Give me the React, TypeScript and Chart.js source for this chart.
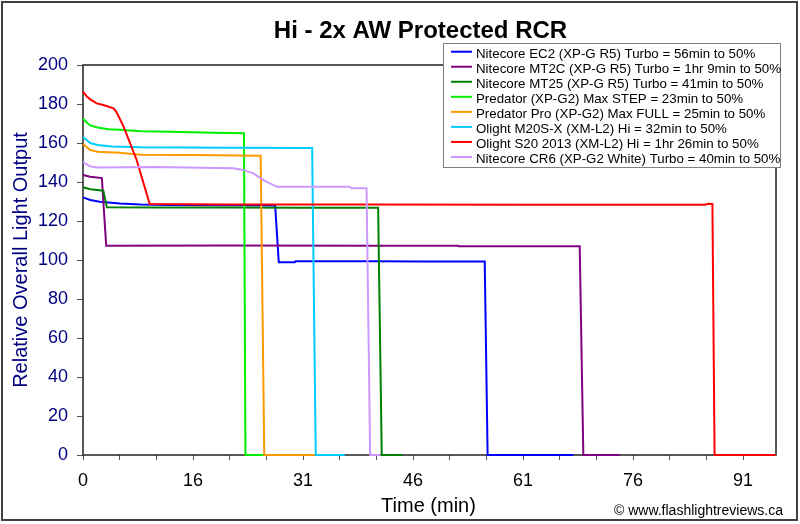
import React, { useEffect, useRef } from 'react';
import { Chart, registerables } from 'chart.js';

Chart.register(...registerables);

const FONT = '"Liberation Sans", Arial, sans-serif';

const chartTitle = 'Hi - 2x AW Protected RCR';
const xAxisTitle = 'Time (min)';
const yAxisTitle = 'Relative Overall Light Output';
const creditText = '\u00A9 www.flashlightreviews.ca';

const xTickLabels = ['0', '16', '31', '46', '61', '76', '91'];
const xLabelStep = 15.17;
const xMax = 95.57;
const yMax = 200;
const yStep = 20;

const seriesNames = [
  'Nitecore EC2 (XP-G R5) Turbo = 56min to 50%',
  'Nitecore MT2C (XP-G R5) Turbo = 1hr 9min to 50%',
  'Nitecore MT25 (XP-G R5) Turbo = 41min to 50%',
  'Predator (XP-G2) Max STEP = 23min to 50%',
  'Predator Pro (XP-G2) Max FULL = 25min to 50%',
  'Olight M20S-X (XM-L2) Hi = 32min to 50%',
  'Olight S20 2013 (XM-L2) Hi = 1hr 26min to 50%',
  'Nitecore CR6 (XP-G2 White) Turbo = 40min to 50%',
];
const seriesColors = ['#0000FF', '#800080', '#008000', '#00EE00', '#FF9900', '#00CCFF', '#FF0000', '#CC99FF'];

const ec2Time = [0, 1, 2.3, 5.1, 7.9, 12, 20, 26.5, 27.0, 29.2, 29.3, 40, 47, 55.4, 55.8, 67.6];
const ec2Output = [132.1, 130.8, 129.9, 129, 128.5, 128.2, 128.1, 127.9, 98.8, 98.8, 99.3, 99.4, 99.2, 99.2, 0, 0];

const mt2cTime = [0, 1, 2.6, 3.2, 20, 40, 51.7, 51.8, 60, 68.5, 69.0, 74];
const mt2cOutput = [143.6, 142.7, 142, 107.3, 107.4, 107.3, 107.3, 107, 107, 107, 0, 0];

const mt25Time = [0, 1, 2.8, 3.3, 10, 20, 30, 40.7, 41.2, 44];
const mt25Output = [137.3, 136.3, 135.5, 127, 126.9, 126.9, 126.8, 126.8, 0, 0];

const predatorTime = [0, 0.5, 1, 2, 3.5, 5, 8, 12, 18, 22.2, 22.4, 24.9];
const predatorOutput = [172.5, 170.5, 169, 168, 167, 166.8, 166, 165.8, 165.3, 165, 0, 0];

const predatorProTime = [0, 0.5, 1, 2, 5, 8, 15, 24.5, 25.0, 32];
const predatorProOutput = [159.5, 158, 156.4, 155.5, 155, 154, 153.8, 153.5, 0, 0];

const m20sxTime = [0, 0.5, 1, 2, 4, 8, 20, 31.6, 32.1, 36.1];
const m20sxOutput = [163, 161.5, 160, 159, 158.2, 157.8, 157.6, 157.5, 0, 0];

const s20Time = [0, 0.5, 1, 1.9, 2.8, 4.2, 4.6, 5.6, 7.4, 9.2, 20, 40, 60, 85.8, 86.2, 86.8, 87.1, 95.5];
const s20Output = [186.3, 184, 182.4, 180.3, 179.5, 177.8, 176, 168.4, 151.3, 128.7, 128.5, 128.4, 128.3, 128.3, 128.8, 128.7, 0, 0];

const cr6Time = [0, 0.5, 1, 2, 10, 20.7, 22.1, 23.5, 24.9, 26.2, 26.7, 36.8, 37.0, 39.1, 39.6, 41];
const cr6Output = [150.4, 149, 148, 147.5, 147.7, 147, 146.2, 144.4, 141, 138.5, 137.6, 137.6, 136.8, 136.8, 0, 0];

const seriesTimes = [ec2Time, mt2cTime, mt25Time, predatorTime, predatorProTime, m20sxTime, s20Time, cr6Time];
const seriesOutputs = [ec2Output, mt2cOutput, mt25Output, predatorOutput, predatorProOutput, m20sxOutput, s20Output, cr6Output];

const decorPlugin = {
  id: 'decor',
  beforeDraw(chart: any) {
    const ctx = chart.ctx;
    ctx.save();
    ctx.fillStyle = '#FFFFFF';
    ctx.fillRect(0, 0, chart.width, chart.height);
    ctx.restore();
  },
  beforeDatasetsDraw(chart: any) {
    const { ctx, chartArea } = chart;
    ctx.save();
    ctx.strokeStyle = '#222222';
    ctx.lineWidth = 1.5;
    ctx.strokeRect(chartArea.left, chartArea.top, chartArea.right - chartArea.left, chartArea.bottom - chartArea.top);
    ctx.restore();
  },
  afterDraw(chart: any) {
    const { ctx } = chart;
    ctx.save();
    // outer border
    ctx.strokeStyle = '#404040';
    ctx.lineWidth = 2;
    ctx.strokeRect(2, 2, 795, 518);

    // title
    ctx.fillStyle = '#000000';
    ctx.font = `bold 24px ${FONT}`;
    ctx.textAlign = 'center';
    ctx.textBaseline = 'alphabetic';
    ctx.fillText(chartTitle, 420.5, 38);

    // x title
    ctx.font = `20px ${FONT}`;
    ctx.fillText(xAxisTitle, 428.5, 512);

    // credit
    ctx.font = `14px ${FONT}`;
    ctx.textAlign = 'right';
    ctx.fillText(creditText, 783, 515);

    // y title
    ctx.save();
    ctx.translate(21, 260);
    ctx.rotate(-Math.PI / 2);
    ctx.fillStyle = '#000080';
    ctx.font = `20px ${FONT}`;
    ctx.textAlign = 'center';
    ctx.textBaseline = 'middle';
    ctx.fillText(yAxisTitle, 0, 0);
    ctx.restore();

    // legend
    const bx = 443, by = 43, bw = 337, bh = 124;
    ctx.fillStyle = '#FFFFFF';
    ctx.fillRect(bx, by, bw, bh);
    ctx.strokeStyle = '#808080';
    ctx.lineWidth = 1;
    ctx.strokeRect(bx + 0.5, by + 0.5, bw, bh);
    ctx.font = `13.3px ${FONT}`;
    ctx.textAlign = 'left';
    ctx.textBaseline = 'alphabetic';
    chart.data.datasets.forEach((ds: any, i: number) => {
      const cy = 52.7 + i * 15.04;
      ctx.strokeStyle = ds.borderColor;
      ctx.lineWidth = 2;
      ctx.beginPath();
      ctx.moveTo(451, cy - 1);
      ctx.lineTo(472, cy - 1);
      ctx.stroke();
      ctx.fillStyle = '#000000';
      ctx.fillText(ds.label, 476, cy + 4.8);
    });
    ctx.restore();
  },
};

export default function App() {
  const canvasRef = useRef<HTMLCanvasElement | null>(null);

  useEffect(() => {
    document.body.style.margin = '0';
    const canvas = canvasRef.current;
    if (!canvas) return;

    const datasets = seriesNames.map((name, i) => ({
      label: name,
      data: seriesTimes[i].map((t, j) => ({ x: t, y: seriesOutputs[i][j] })),
      borderColor: seriesColors[i],
      backgroundColor: seriesColors[i],
      borderWidth: 2,
      pointRadius: 0,
      tension: 0,
      fill: false,
      clip: false as any,
      order: seriesNames.length - i,
    }));

    const tickValues: number[] = [];
    for (let i = 0; i * (xLabelStep / 3) <= xMax; i++) tickValues.push(i * (xLabelStep / 3));

    const chart = new Chart(canvas, {
      type: 'line',
      data: { datasets },
      options: {
        animation: false,
        responsive: false,
        devicePixelRatio: 1,
        layout: { padding: { top: 65, right: 24, left: 0, bottom: 0 } },
        plugins: {
          legend: { display: false },
          title: { display: false },
          tooltip: { enabled: false },
        },
        scales: {
          x: {
            type: 'linear',
            min: 0,
            max: xMax,
            afterBuildTicks: (axis: any) => {
              axis.ticks = tickValues.map((v) => ({ value: v }));
            },
            afterFit: (scale: any) => {
              scale.height = 69;
            },
            ticks: {
              autoSkip: false,
              maxRotation: 0,
              minRotation: 0,
              padding: 10,
              color: '#000000',
              font: { family: FONT, size: 18 },
              callback: (_v: any, index: number) => (index % 3 === 0 ? xTickLabels[index / 3] ?? '' : ''),
            },
            grid: { drawOnChartArea: false, drawTicks: true, tickLength: 5, color: '#555555' },
            border: { display: false },
          },
          y: {
            min: 0,
            max: yMax,
            afterFit: (scale: any) => {
              scale.width = 83;
            },
            ticks: {
              stepSize: yStep,
              padding: 9,
              color: '#000080',
              font: { family: FONT, size: 18 },
            },
            grid: { drawOnChartArea: false, drawTicks: true, tickLength: 6, color: '#555555' },
            border: { display: false },
          },
        },
      },
      plugins: [decorPlugin],
    });

    return () => chart.destroy();
  }, []);

  return <canvas ref={canvasRef} width={800} height={524} style={{ display: 'block' }} />;
}
